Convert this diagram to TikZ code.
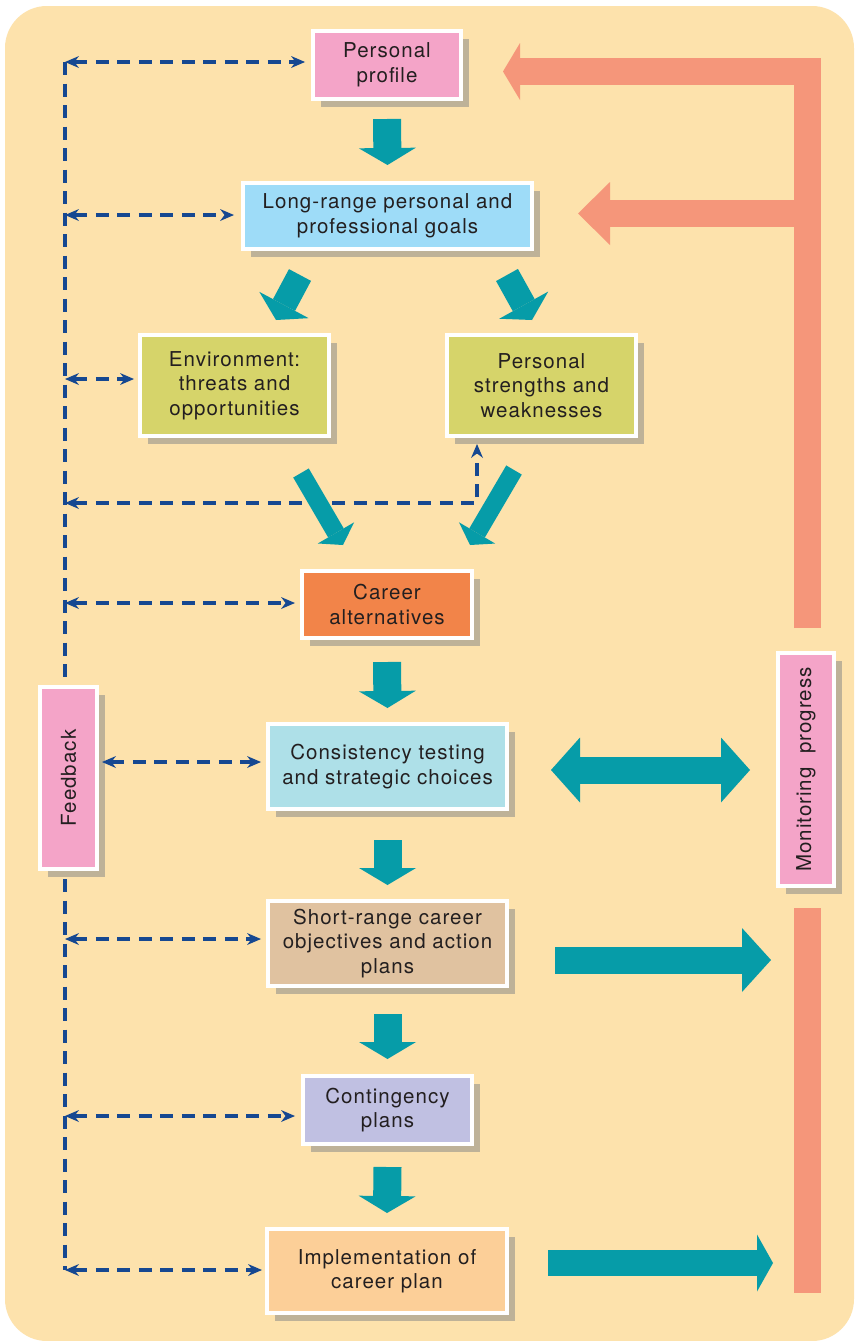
\documentclass[tikz,border=0pt]{standalone}
\usepackage{fontspec}
\setmainfont{TeX Gyre Heros}[LetterSpace=5]
\usepackage{graphicx}
\usetikzlibrary{arrows.meta,shadows}
\definecolor{bgc}{RGB}{253,226,172}
\definecolor{tealc}{RGB}{6,156,168}
\definecolor{salmc}{RGB}{245,150,122}
\definecolor{dashc}{RGB}{22,72,145}
\definecolor{shc}{RGB}{190,178,152}
\definecolor{pinkc}{RGB}{244,164,200}
\definecolor{bluec}{RGB}{158,220,248}
\definecolor{olivec}{RGB}{214,212,106}
\definecolor{orangec}{RGB}{242,132,73}
\definecolor{cyanc}{RGB}{174,224,232}
\definecolor{tanc}{RGB}{224,194,160}
\definecolor{lavc}{RGB}{192,192,226}
\definecolor{peachc}{RGB}{252,207,152}
\definecolor{txtc}{RGB}{35,31,32}
\tikzset{
  box/.style={draw=white, line width=4pt, inner sep=0pt, align=center, text=txtc,
    font=\fontsize{20.5}{24.5}\selectfont,
    drop shadow={shadow xshift=8pt, shadow yshift=-8pt, fill=shc, opacity=1}},
  fbline/.style={draw=dashc, line width=3.2pt, dash pattern=on 13pt off 8.5pt},
  fbboth/.style={fbline, {Stealth[length=14pt,width=12pt,line width=0pt]}-{Stealth[length=14pt,width=12pt,line width=0pt]}},
  tealdown/.style={draw=tealc, line width=28pt, -{Triangle[length=17pt,width=57pt,line width=0pt]}},
  tealdiag/.style={draw=tealc, line width=25pt, -{Triangle[length=17pt,width=56pt,line width=0pt]}},
  tealdiagb/.style={draw=tealc, line width=18pt, -{Triangle[length=14pt,width=42pt,line width=0pt]}},
  tealh/.style={draw=tealc, line width=27pt, -{Triangle[length=29pt,width=64pt,line width=0pt]}},
  tealhb/.style={draw=tealc, line width=26pt, -{Triangle[length=16pt,width=57pt,line width=0pt]}},
  tealdbl/.style={draw=tealc, line width=27pt, {Triangle[length=29pt,width=65pt,line width=0pt]}-{Triangle[length=29pt,width=65pt,line width=0pt]}},
  salm/.style={draw=salmc, line width=27pt, line join=miter}
}
\begin{document}
\begin{tikzpicture}[x=1pt,y=-1pt]
\useasboundingbox (0,0) rectangle (854,1341);
\fill[white] (0,0) rectangle (854,1341);
\fill[bgc, rounded corners=42pt] (5,6) rectangle (854,1341);

% coordinates
\coordinate (ftop) at (65,62);
\coordinate (fbot) at (65,1270);
\coordinate (f2) at (65,215);
\coordinate (f3) at (65,379);
\coordinate (f4) at (65,503);
\coordinate (f4r) at (477,503);
\coordinate (f5) at (65,603);
\coordinate (f7) at (65,939);
\coordinate (f8) at (65,1116);

% feedback vertical line (behind the Feedback box)
\draw[fbline] (ftop) -- (fbot);

% boxes
\node[box, fill=pinkc, minimum width=148pt, minimum height=68pt] (pp) at (387,65) {Personal\\profile};
\node[box, fill=bluec, minimum width=289pt, minimum height=66pt] (lr) at (387.5,216) {Long-range personal and\\professional goals};
\node[box, fill=olivec, minimum width=189pt, minimum height=101pt] (env) at (234.5,385.5) {Environment:\\threats and\\opportunities};
\node[box, fill=olivec, minimum width=189pt, minimum height=101pt] (str) at (541.5,385.5) {Personal\\strengths and\\weaknesses};
\node[box, fill=orangec, minimum width=170pt, minimum height=67pt] (car) at (387,604.5) {Career\\alternatives};
\node[box, fill=cyanc, minimum width=239pt, minimum height=85pt] (con) at (387.5,766.5) {Consistency testing\\and strategic choices};
\node[box, fill=tanc, minimum width=239pt, minimum height=85pt] (sho) at (387.5,943.5) {Short-range career\\objectives and action\\plans};
\node[box, fill=lavc, minimum width=169pt, minimum height=68pt] (cnt) at (387.5,1110) {Contingency\\plans};
\node[box, fill=peachc, minimum width=240pt, minimum height=84pt] (imp) at (387,1271) {Implementation of\\career plan};
\node[box, fill=pinkc, minimum width=57pt, minimum height=182pt] (fb) at (68.5,778) {\rotatebox{90}{Feedback}};
\node[box, fill=pinkc, minimum width=56pt, minimum height=233pt] (mon) at (806,769.5) {\rotatebox{90}{Monitoring\ \ progress}};

% feedback dashed connectors
\draw[fbboth, shorten >=6pt] (ftop) -- ([yshift=3pt]pp.west);
\draw[fbboth, shorten >=7pt] (f2) -- ([yshift=1pt]lr.west);
\draw[fbboth, shorten >=4pt] (f3) -- ([yshift=6.5pt]env.west);
\draw[fbboth, shorten >=6pt] (f4) -- (f4r) -- (f4r |- str.south);
\draw[fbboth, shorten >=5pt] (f5) -- ([yshift=1.5pt]car.west);
\draw[fbboth, shorten <=3pt, shorten >=5pt] ([yshift=16pt]fb.east) -- ([yshift=4.5pt]con.west);
\draw[fbboth, shorten >=5pt] (f7) -- ([yshift=4.5pt]sho.west);
\draw[fbboth, shorten >=6pt] (f8) -- ([yshift=-6pt]cnt.west);
\draw[fbboth, shorten >=3pt] (fbot) -- ([yshift=1pt]imp.west);

% teal flow arrows
\draw[tealdown] ([yshift=-18pt]pp.south) -- ([yshift=16pt]lr.north);
\draw[tealdown] ([yshift=-22pt]car.south) -- ([yshift=14pt]con.north);
\draw[tealdown] ([yshift=-29pt]con.south) -- ([yshift=14pt]sho.north);
\draw[tealdown] ([yshift=-26pt]sho.south) -- ([yshift=15pt]cnt.north);
\draw[tealdown] ([yshift=-21pt]cnt.south) -- ([yshift=14pt]imp.north);

\coordinate (a1) at (300,275); \coordinate (a1e) at (276,320);
\coordinate (a2) at (507,275); \coordinate (a2e) at (532,320);
\coordinate (a3) at (301,473); \coordinate (a3e) at (343,545);
\coordinate (a4) at (514,470); \coordinate (a4e) at (470,545);
\draw[tealdiag] (a1) -- (a1e);
\draw[tealdiag] (a2) -- (a2e);
\draw[tealdiagb] (a3) -- (a3e);
\draw[tealdiagb] (a4) -- (a4e);

\coordinate (she) at (771,960);
\coordinate (ime) at (773,1263);
\draw[tealdbl] ([xshift=42pt,yshift=-3.5pt]con.east) -- ([xshift=-26pt,yshift=-0.5pt]mon.west);
\draw[tealh] ([xshift=46pt,yshift=-16.5pt]sho.east) -- (she);
\draw[tealhb] ([xshift=39pt,yshift=8pt]imp.east) -- (ime);

% monitoring (salmon) connectors
\coordinate (s1) at (503,71.5);
\coordinate (s2a) at (807,213.5);
\coordinate (s2) at (578,213.5);
\coordinate (sbot) at (807,1293);
\draw[salm, -{Triangle[length=17pt,width=57pt,line width=0pt]}] ([xshift=1pt,yshift=23pt]mon.north) |- (s1);
\draw[salm, -{Triangle[length=32pt,width=63pt,line width=0pt]}] (s2a) -- (s2);
\draw[salm] ([xshift=1pt,yshift=-20pt]mon.south) -- (sbot);
\end{tikzpicture}
\end{document}
